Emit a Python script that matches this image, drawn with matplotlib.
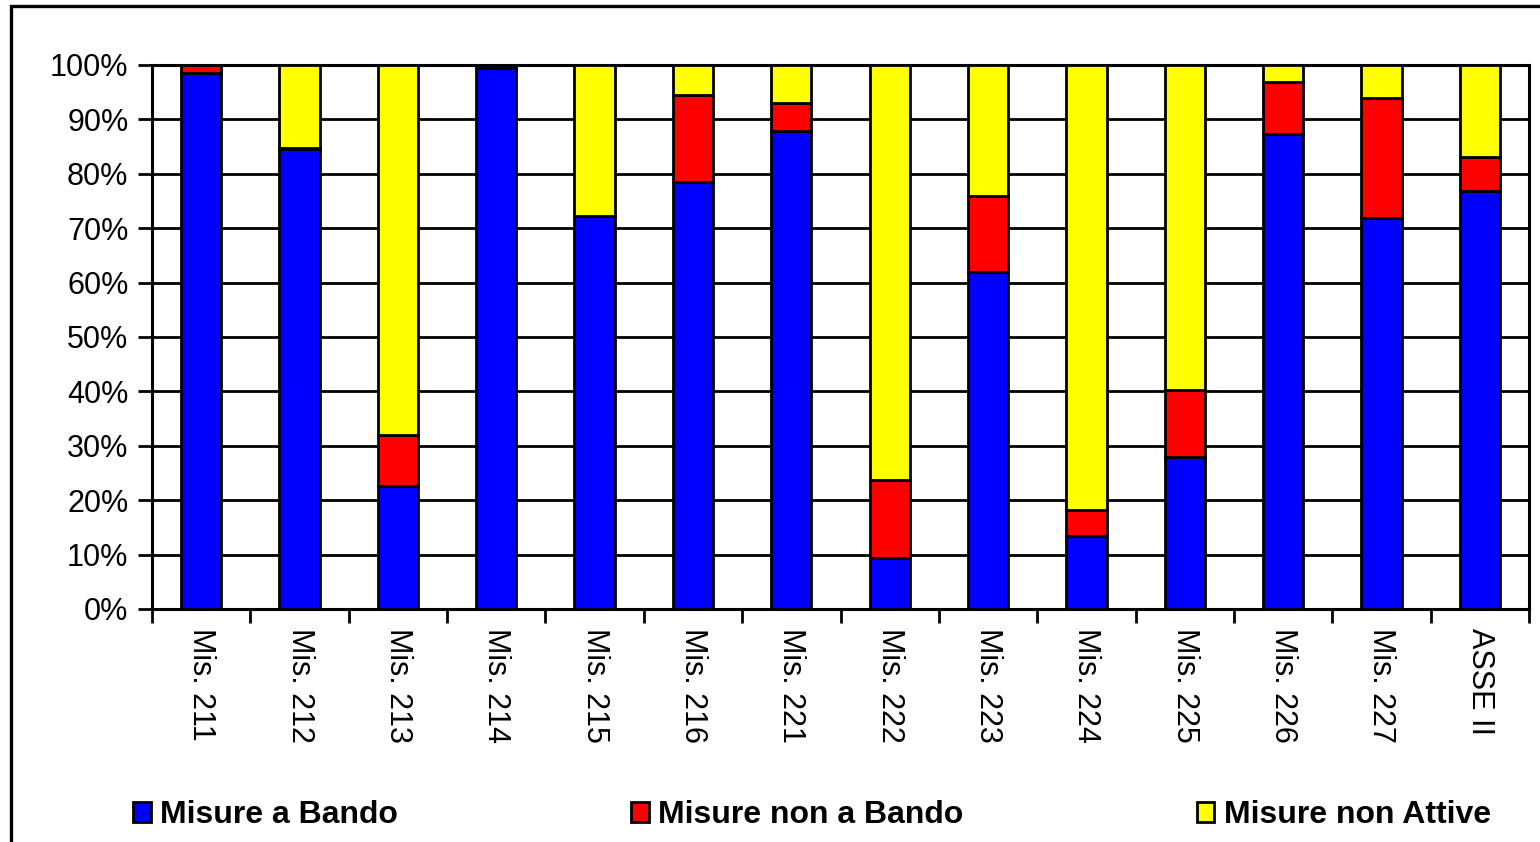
import matplotlib
matplotlib.use("Agg")
import matplotlib.pyplot as plt
from matplotlib.patches import Rectangle, Patch
import numpy as np

plt.rcParams['font.family'] = ['Liberation Sans', 'DejaVu Sans']

categories = ["Mis. 211", "Mis. 212", "Mis. 213", "Mis. 214", "Mis. 215", "Mis. 216",
              "Mis. 221", "Mis. 222", "Mis. 223", "Mis. 224", "Mis. 225", "Mis. 226",
              "Mis. 227", "ASSE II"]
a_bando = [98.6, 84.6, 22.6, 99.4, 72.2, 78.5, 87.9, 9.4, 62.0, 13.4, 27.9, 87.3, 71.9, 76.8]
non_a_bando = [1.4, 0.2, 9.4, 0.6, 0.0, 16.0, 5.1, 14.3, 13.9, 4.8, 12.4, 9.6, 22.0, 6.3]
non_attive = [100 - a - b for a, b in zip(a_bando, non_a_bando)]
series_names = ["Misure a Bando", "Misure non a Bando", "Misure non Attive"]
colors = ["#0000FF", "#FF0000", "#FFFF00"]

W, H = 1540, 842
fig = plt.figure(figsize=(W / 100, H / 100), dpi=100)
ax = fig.add_axes([152 / W, 1 - 609 / H, (1529 - 152) / W, (609 - 65) / H])

x = np.arange(len(categories))
bw = 0.41
bottom = np.zeros(len(categories))
for vals, c, name in zip([a_bando, non_a_bando, non_attive], colors, series_names):
    v = np.array(vals)
    ax.bar(x, v, bw, bottom=bottom, color=c, edgecolor="black", linewidth=2.0,
           label=name, zorder=3)
    bottom += v

ax.set_xlim(-0.5, len(categories) - 0.5)
ax.set_ylim(0, 100)
ax.set_yticks(np.arange(0, 101, 10))
ax.set_yticklabels([f"{v}%" for v in range(0, 101, 10)], fontsize=22)
ax.yaxis.grid(True, color="black", linewidth=2.0, zorder=0)
ax.set_axisbelow(True)

# category ticks at boundaries, labels centered
ax.set_xticks(np.arange(-0.5, len(categories), 1.0))
ax.set_xticklabels([])
ax.set_xticks(x, minor=True)
ax.set_xticklabels(categories, minor=True, rotation=-90, fontsize=22, va="top", ha="center")
ax.tick_params(axis="x", which="minor", length=0, pad=14)
ax.tick_params(axis="x", which="major", length=10, width=2.0, direction="out")
ax.tick_params(axis="y", length=10, width=2.0, direction="out", pad=7)
for s in ax.spines.values():
    s.set_linewidth(2.2)
    s.set_color("black")

# outer chart frame
frame = Rectangle((11 / W, -0.1), 1.2, 1 - 6 / H + 0.1, transform=fig.transFigure,
                  fill=False, edgecolor="black", linewidth=2.4, clip_on=False)
fig.patches.append(frame)

handles = [Patch(facecolor=c, edgecolor="black", linewidth=2.0) for c in colors]
leg = fig.legend(handles, series_names, loc="center left", bbox_to_anchor=(133 / W, 1 - 815 / H),
                 ncol=3, frameon=False, prop={"weight": "bold", "size": 23},
                 handlelength=0.55, handleheight=0.6, handletextpad=0.3, columnspacing=7.3,
                 borderpad=0, borderaxespad=0)

fig.savefig("out.png", dpi=100)
